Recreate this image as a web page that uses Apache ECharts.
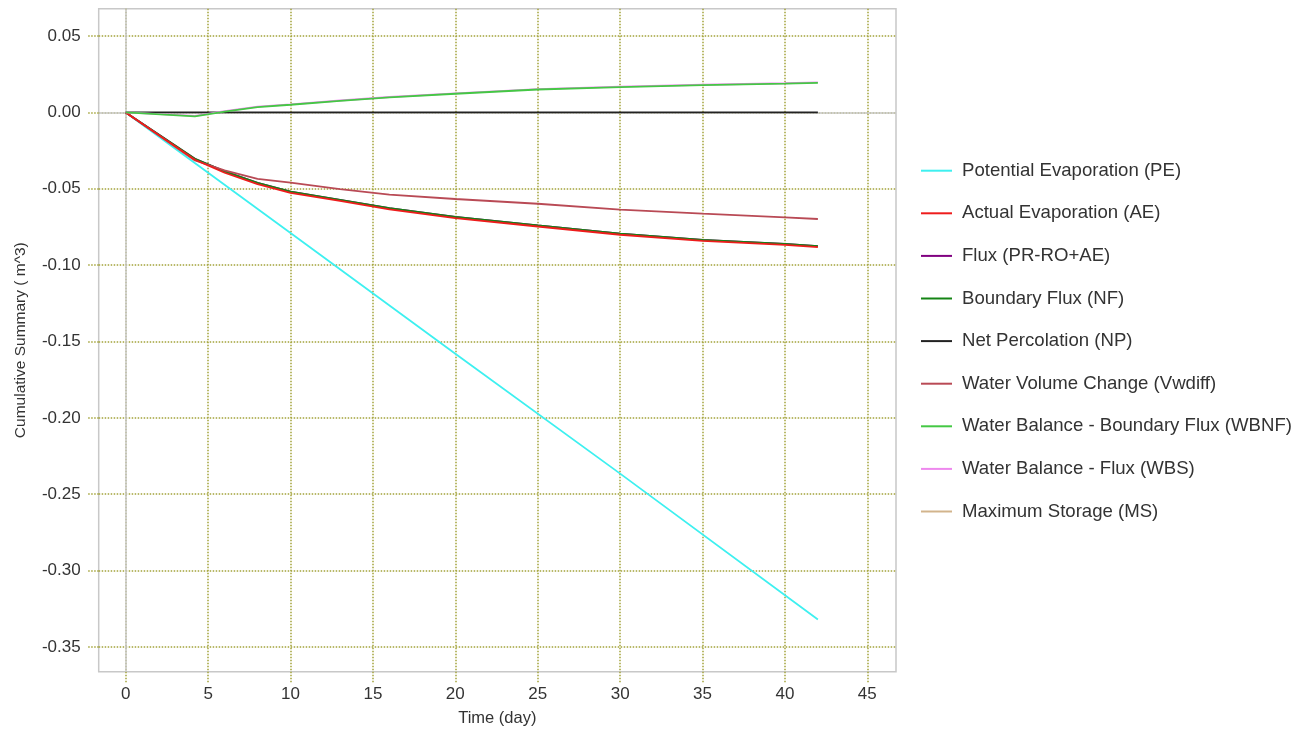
<!DOCTYPE html>
<html lang="en">
<head>
    <meta charset="UTF-8">
    <title>Cumulative Summary</title>
    <script src="https://cdn.jsdelivr.net/npm/echarts@6/dist/echarts.min.js"></script>
    <style>
        html, body { margin: 0; padding: 0; background: #fff; }
        #chart { width: 1312px; height: 736px; }
    </style>
</head>
<body>
<div id="chart"></div>
<script>
    // time points (day)
    var days = [0, 4.2, 6, 8, 10, 13, 16, 20, 25, 30, 35, 40, 42];
    var peDays = [0, 10, 20, 30, 42];

    // cumulative values (m^3)
    var pe = [0, -0.079, -0.158, -0.2365, -0.332];
    var ae = [0, -0.031, -0.0395, -0.047, -0.0527, -0.058, -0.0635, -0.0692, -0.0747, -0.0801, -0.0841, -0.0867, -0.0882];
    var flux = [0, -0.0304, -0.0386, -0.0461, -0.0518, -0.0572, -0.0627, -0.0684, -0.074, -0.0794, -0.0834, -0.0861, -0.0876];
    var nf = [0, -0.0304, -0.0386, -0.0461, -0.0518, -0.0572, -0.0627, -0.0684, -0.074, -0.0794, -0.0834, -0.0861, -0.0876];
    var np = [0, 0, 0, 0, 0, 0, 0, 0, 0, 0, 0, 0, 0];
    var vwdiff = [0, -0.0315, -0.038, -0.0435, -0.046, -0.0502, -0.0538, -0.0567, -0.0598, -0.0637, -0.0663, -0.0687, -0.0698];
    var wbnf = [0, -0.0026, 0.0005, 0.0035, 0.005, 0.0075, 0.0098, 0.0122, 0.015, 0.0166, 0.0178, 0.0188, 0.0193];
    var wbs = [0, -0.0023, 0.0008, 0.0038, 0.0053, 0.0078, 0.0101, 0.0125, 0.0153, 0.0169, 0.0181, 0.0191, 0.0196];
    var ms = [];

    var xTicks = [0, 5, 10, 15, 20, 25, 30, 35, 40, 45];
    var yTicks = [-0.35, -0.3, -0.25, -0.2, -0.15, -0.1, -0.05, 0, 0.05];

    var names = ['Potential Evaporation (PE)', 'Actual Evaporation (AE)', 'Flux (PR-RO+AE)',
        'Boundary Flux (NF)', 'Net Percolation (NP)', 'Water Volume Change (Vwdiff)',
        'Water Balance - Boundary Flux (WBNF)', 'Water Balance - Flux (WBS)', 'Maximum Storage (MS)'];
    var colors = ['#3ef0f0', '#ee1c1c', '#800080', '#148414', '#222222', '#b94a55', '#44c844', '#ee88ee', '#d2b48c'];
    // stacking order: AE drawn over NF, WBNF over WBS
    var zs = [3, 9, 5, 6, 8, 7, 11, 10, 4];

    function pairs(xs, ys) {
        var out = [];
        for (var i = 0; i < ys.length; i++) out.push([xs[i], ys[i]]);
        return out;
    }

    var seriesData = [pairs(peDays, pe), pairs(days, ae), pairs(days, flux), pairs(days, nf),
        pairs(days, np), pairs(days, vwdiff), pairs(days, wbnf), pairs(days, wbs), ms];

    var gridColor = '#a3a33a';
    var font = 'Liberation Sans, Arial, sans-serif';

    var series = [];
    for (var i = 0; i < names.length; i++) {
        series.push({
            name: names[i],
            type: 'line',
            data: seriesData[i],
            showSymbol: false,
            symbol: 'none',
            smooth: false,
            animation: false,
            z: zs[i],
            lineStyle: { color: colors[i], width: 1.8 },
            itemStyle: { color: colors[i] }
        });
    }
    // gray zero lines
    series.push({
        type: 'line',
        data: [],
        silent: true,
        animation: false,
        z: 2,
        markLine: {
            silent: true,
            symbol: 'none',
            animation: false,
            label: { show: false },
            lineStyle: { color: '#c8c8c8', type: 'solid', width: 1.5 },
            data: [{ xAxis: 0 }, { yAxis: 0 }]
        }
    });

    var chart = echarts.init(document.getElementById('chart'));
    chart.setOption({
        backgroundColor: '#fff',
        animation: false,
        grid: {
            left: 98.7, right: 416, top: 8.7, bottom: 64.3,
            show: true, borderColor: '#c8c8c8', borderWidth: 1.5, backgroundColor: '#fff'
        },
        legend: {
            orient: 'vertical',
            left: 921, top: 160.7,
            padding: 0,
            icon: 'rect',
            itemWidth: 31, itemHeight: 2,
            itemGap: 22.6,
            itemTextGap: 10,
            data: names,
            textStyle: { fontFamily: font, fontSize: 18.6, color: '#333', lineHeight: 20, padding: [0, 0, 0, 5] }
        },
        xAxis: {
            type: 'value',
            min: -1.64, max: 46.74,
            name: 'Time (day)',
            nameLocation: 'middle',
            nameGap: 38,
            nameTextStyle: { fontFamily: font, fontSize: 16.5, color: '#333' },
            axisLine: { show: false, onZero: false },
            axisTick: { show: true, inside: false, length: 11, customValues: xTicks,
                lineStyle: { color: gridColor, type: 'dotted', width: 1.5 } },
            axisLabel: { customValues: xTicks, margin: 14, fontFamily: font, fontSize: 17, color: '#333' },
            splitLine: { show: true, lineStyle: { color: gridColor, type: 'dotted', width: 1.5 } }
        },
        yAxis: {
            type: 'value',
            min: -0.3662, max: 0.0679,
            name: 'Cumulative Summary ( m^3)',
            nameLocation: 'middle',
            nameGap: 70,
            nameTextStyle: { fontFamily: font, fontSize: 15.5, color: '#333' },
            axisLine: { show: false, onZero: false },
            axisTick: { show: true, inside: false, length: 11, customValues: yTicks,
                lineStyle: { color: gridColor, type: 'dotted', width: 1.5 } },
            axisLabel: { customValues: yTicks, margin: 18, fontFamily: font, fontSize: 17, color: '#333',
                formatter: function (v) { return v.toFixed(2); } },
            splitLine: { show: true, lineStyle: { color: gridColor, type: 'dotted', width: 1.5 } }
        },
        series: series
    });
</script>
</body>
</html>
